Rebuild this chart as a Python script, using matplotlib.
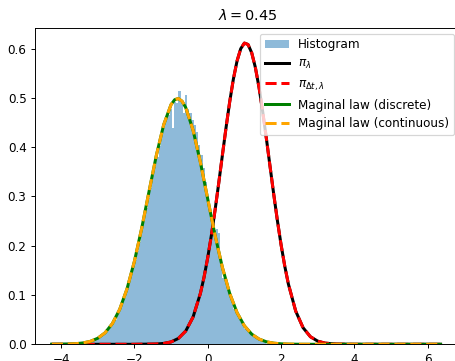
import numpy as np
import matplotlib
matplotlib.use("Agg")
import matplotlib.pyplot as plt

# histogram of samples (bin heights)
hist_start = -3.26
hist_width = 0.06
hist_heights = [
    0.004, 0.006, 0.009, 0.010, 0.014, 0.015, 0.020, 0.021, 0.028, 0.031,
    0.040, 0.043, 0.050, 0.063, 0.070, 0.082, 0.094, 0.112, 0.120, 0.145,
    0.155, 0.172, 0.190, 0.208, 0.232, 0.258, 0.276, 0.296, 0.318, 0.342,
    0.360, 0.380, 0.402, 0.425, 0.440, 0.455, 0.466, 0.478, 0.440, 0.492,
    0.490, 0.515, 0.492, 0.470, 0.505, 0.478, 0.470, 0.455, 0.445, 0.430,
    0.405, 0.385, 0.358, 0.330, 0.300, 0.270, 0.245, 0.232, 0.235, 0.225,
    0.160, 0.135, 0.132, 0.112, 0.100, 0.090, 0.072, 0.065, 0.055, 0.045,
    0.040, 0.032, 0.028, 0.022, 0.018, 0.016, 0.012, 0.010, 0.008, 0.006,
    0.005,
]

# invariant law pi_lambda (same curve for pi_{dt,lambda})
pi_x = [-4.25, -2.0, -1.4, -1.2, -1.0, -0.8, -0.6, -0.4, -0.2, -0.1,
        0.0, 0.1, 0.2, 0.3, 0.4, 0.5, 0.6, 0.7, 0.8, 0.9,
        1.0, 1.1, 1.2, 1.3, 1.4, 1.5, 1.6, 1.7, 1.8, 1.9,
        2.0, 2.1, 2.2, 2.4, 2.6, 2.8, 3.0, 3.2, 3.5, 4.0, 6.35]
pi_y = [0.0, 0.0, 0.0006, 0.0018, 0.0048, 0.0119, 0.0269, 0.0552, 0.1032, 0.1362,
        0.1757, 0.2212, 0.2721, 0.3269, 0.3837, 0.4398, 0.4924, 0.5384, 0.5751, 0.5999,
        0.6114, 0.6085, 0.5916, 0.5617, 0.5210, 0.4719, 0.4176, 0.3609, 0.3047, 0.2512,
        0.2023, 0.1591, 0.1223, 0.0673, 0.0337, 0.0154, 0.0064, 0.0024, 0.0005, 0.0, 0.0]

# marginal law
marg_x = [-4.25, -4.0, -3.8, -3.6, -3.4, -3.2, -3.0, -2.8, -2.6, -2.4,
          -2.2, -2.0, -1.8, -1.6, -1.4, -1.2, -1.0, -0.9, -0.8, -0.7,
          -0.6, -0.4, -0.2, 0.0, 0.2, 0.4, 0.6, 0.8, 1.0, 1.2,
          1.4, 1.6, 1.8, 2.0, 2.2, 2.5, 3.0, 6.35]
marg_y = [0.0001, 0.0002, 0.0005, 0.0012, 0.0028, 0.0060, 0.0122, 0.0233, 0.0420, 0.0710,
          0.1127, 0.1681, 0.2356, 0.3102, 0.3837, 0.4458, 0.4865, 0.4965, 0.4988, 0.4934,
          0.4805, 0.4348, 0.3696, 0.2951, 0.2214, 0.1560, 0.1032, 0.0642, 0.0375, 0.0206,
          0.0106, 0.0051, 0.0023, 0.0010, 0.0004, 0.0001, 0.0, 0.0]

lam = 0.45

DPI = 86.4
fig = plt.figure(figsize=(455 / DPI, 361 / DPI), dpi=DPI)
ax = fig.add_axes([35 / 455, 16.7 / 361, 425 / 455, 316.8 / 361])

edges = hist_start + hist_width * np.arange(len(hist_heights) + 1)
centers = edges[:-1] + hist_width / 2
ax.hist(centers, bins=edges, weights=hist_heights, alpha=0.5, label="Histogram")

ax.plot(pi_x, pi_y, color="black", lw=2.5, label=r"$\pi_\lambda$")
ax.plot(pi_x, pi_y, "--", color="red", lw=2.5, label=r"$\pi_{\Delta t,\lambda}$")
ax.plot(marg_x, marg_y, color="green", lw=2.5, label="Maginal law (discrete)")
ax.plot(marg_x, marg_y, "--", color="orange", lw=2.5, label="Maginal law (continuous)")

ax.set_xlim(-4.71, 6.88)
ax.set_ylim(0, 0.643)
ax.set_title(rf"$\lambda = {lam}$")
ax.legend(loc="upper right")

fig.savefig("out.png", dpi=DPI)
